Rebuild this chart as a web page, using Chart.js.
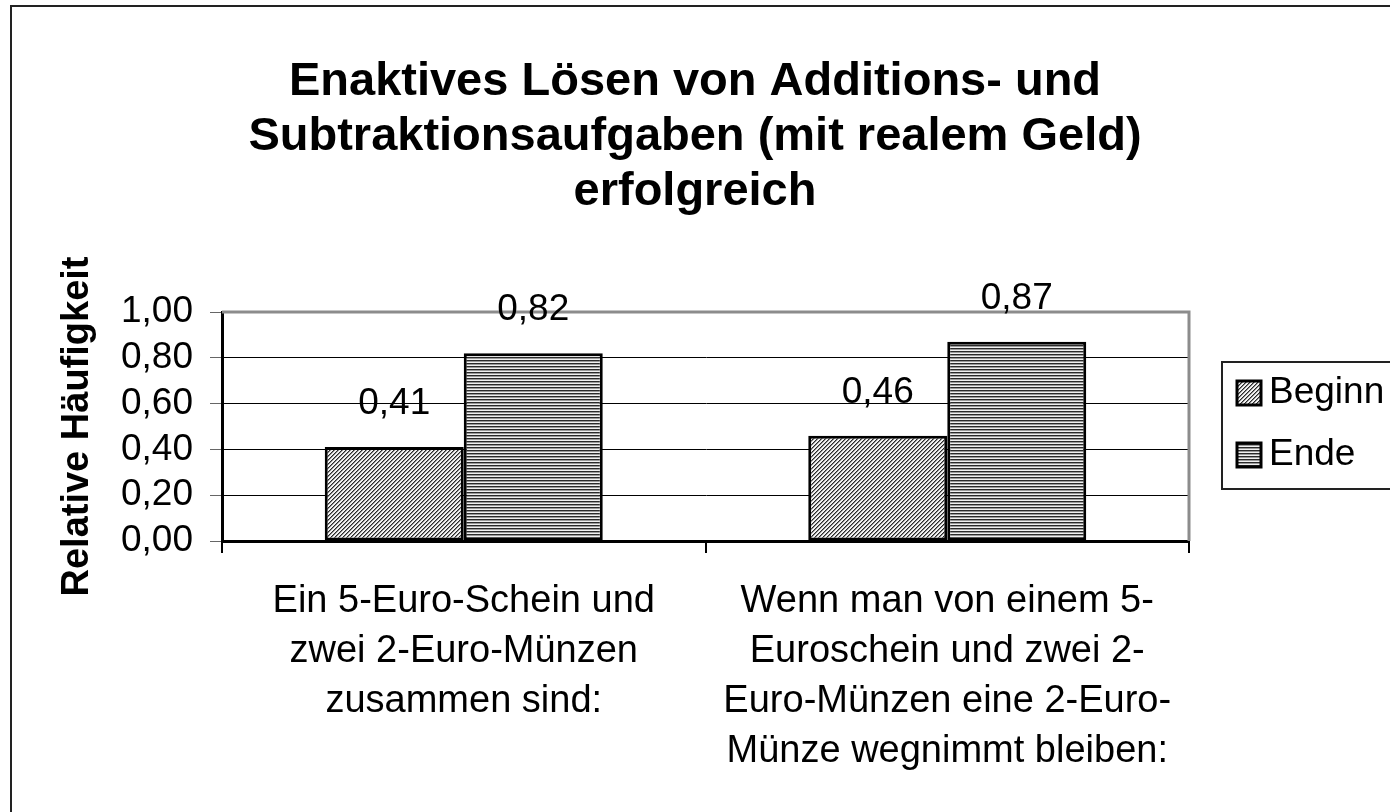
<!DOCTYPE html>
<html>
<head>
<meta charset="utf-8">
<script src="https://cdn.jsdelivr.net/npm/chart.js@4"></script>
<style>
  html, body { margin: 0; background: #fff; }
  canvas { display: block; }
</style>
</head>
<body>
<canvas id="chart" width="1390" height="812"></canvas>
<script>
const titleLines = [
  "Enaktives Lösen von Additions- und",
  "Subtraktionsaufgaben (mit realem Geld)",
  "erfolgreich"
];
const categories = [
  ["Ein 5-Euro-Schein und", "zwei 2-Euro-Münzen", "zusammen sind:"],
  ["Wenn man von einem 5-", "Euroschein und zwei 2-", "Euro-Münzen eine 2-Euro-", "Münze wegnimmt bleiben:"]
];
const seriesNames = ["Beginn", "Ende"];
const beginn = [0.41, 0.46];
const ende = [0.82, 0.87];
const yMin = 0, yMax = 1, yStep = 0.2;

const FONT = "'Liberation Sans', Arial, sans-serif";
const fmt = v => Number(v).toFixed(2).replace(".", ",");

function makePattern(w, h, draw) {
  const c = document.createElement("canvas");
  c.width = w; c.height = h;
  draw(c.getContext("2d"));
  return document.getElementById("chart").getContext("2d").createPattern(c, "repeat");
}

// fine diagonal hatch for "Beginn"
const diagPattern = makePattern(4, 4, g => {
  g.fillStyle = "#f2f2f2";
  g.fillRect(0, 0, 4, 4);
  for (let i = 0; i < 4; i++) {
    g.fillStyle = "#2a2a2a";
    g.fillRect(i, 3 - i, 1, 1);
    g.fillStyle = "#8a8a8a";
    g.fillRect((i + 1) % 4, 3 - i, 1, 1);
  }
});
// horizontal stripes for "Ende"
const stripePattern = makePattern(1, 3, g => {
  g.fillStyle = "#2a2a2a"; g.fillRect(0, 0, 1, 1);
  g.fillStyle = "#9a9a9a"; g.fillRect(0, 1, 1, 1);
  g.fillStyle = "#f0f0f0"; g.fillRect(0, 2, 1, 1);
});

const frame = {
  id: "frame",
  beforeDraw(chart) {
    const { ctx } = chart;
    ctx.save();
    ctx.strokeStyle = "#222";
    ctx.lineWidth = 2;
    ctx.strokeRect(11, 6, 1400, 830);
    ctx.restore();
  },
  beforeDatasetsDraw(chart) {
    const { ctx, chartArea: a } = chart;
    ctx.save();
    ctx.strokeStyle = "#8c8c8c";
    ctx.lineWidth = 3;
    ctx.beginPath();
    ctx.moveTo(a.left, a.top);
    ctx.lineTo(a.right, a.top);
    ctx.lineTo(a.right, a.bottom);
    ctx.stroke();
    ctx.restore();
  }
};

const valueLabels = {
  id: "valueLabels",
  afterDatasetsDraw(chart) {
    const { ctx } = chart;
    ctx.save();
    ctx.font = "37px " + FONT;
    ctx.fillStyle = "#000";
    ctx.textAlign = "center";
    ctx.textBaseline = "middle";
    chart.data.datasets.forEach((ds, i) => {
      chart.getDatasetMeta(i).data.forEach((bar, j) => {
        ctx.fillText(fmt(ds.data[j]), bar.x, bar.y - 43);
      });
    });
    ctx.restore();
  }
};

const boxLegend = {
  id: "boxLegend",
  afterDraw(chart) {
    const { ctx } = chart;
    const x = 1222, y = 362, h = 127;
    ctx.save();
    ctx.strokeStyle = "#222";
    ctx.lineWidth = 2;
    ctx.strokeRect(x, y, 400, h);
    ctx.font = "37px " + FONT;
    ctx.textBaseline = "middle";
    chart.data.datasets.forEach((ds, i) => {
      const cy = 393 + i * 62;
      ctx.fillStyle = ds.backgroundColor;
      ctx.fillRect(1237, cy - 12, 24, 24);
      ctx.strokeStyle = "#000";
      ctx.lineWidth = 3;
      ctx.strokeRect(1237, cy - 12, 24, 24);
      ctx.fillStyle = "#000";
      ctx.fillText(ds.label, 1269, cy);
    });
    ctx.restore();
  }
};

new Chart(document.getElementById("chart"), {
  type: "bar",
  data: {
    labels: categories,
    datasets: [
      { label: seriesNames[0], data: beginn, backgroundColor: diagPattern },
      { label: seriesNames[1], data: ende, backgroundColor: stripePattern }
    ]
  },
  options: {
    responsive: false,
    animation: false,
    layout: { padding: 0 },
    datasets: {
      bar: {
        borderColor: "#000",
        borderWidth: 3,
        borderSkipped: false,
        categoryPercentage: 0.575,
        barPercentage: 1.0
      }
    },
    plugins: {
      legend: { display: false },
      tooltip: { enabled: false },
      title: {
        display: true,
        text: titleLines,
        color: "#000",
        font: { family: FONT, size: 47, weight: "bold", lineHeight: 55 / 47 },
        padding: { top: 55, bottom: 92 }
      }
    },
    scales: {
      x: {
        grid: { offset: true, drawOnChartArea: false, color: "#000", tickLength: 12, lineWidth: 2 },
        border: { color: "#000", width: 3 },
        ticks: {
          color: "#000",
          padding: 24,
          maxRotation: 0,
          autoSkip: false,
          font: { family: FONT, size: 38, lineHeight: 50 / 38 }
        },
        afterFit: s => { s.height = 271; }
      },
      y: {
        min: yMin,
        max: yMax,
        grid: {
          color: c => (c.tick && c.tick.value === yMax ? "rgba(0,0,0,0)" : "#000"),
          tickColor: "#666",
          lineWidth: 1,
          tickLength: 12
        },
        border: { color: "#000", width: 3 },
        ticks: {
          stepSize: yStep,
          autoSkip: false,
          color: "#000",
          padding: 17,
          callback: v => fmt(v),
          font: { family: FONT, size: 37, lineHeight: 1 }
        },
        title: {
          display: true,
          text: "Relative Häufigkeit",
          color: "#000",
          font: { family: FONT, size: 38, weight: "bold" },
          padding: { top: 55, bottom: 0 }
        },
        afterFit: s => { s.width = 222; }
      },
      spacer: {
        type: "linear",
        position: "right",
        grid: { display: false },
        border: { display: false },
        ticks: { display: false },
        afterFit: s => { s.width = 201; }
      }
    }
  },
  plugins: [frame, valueLabels, boxLegend]
});
</script>
</body>
</html>
